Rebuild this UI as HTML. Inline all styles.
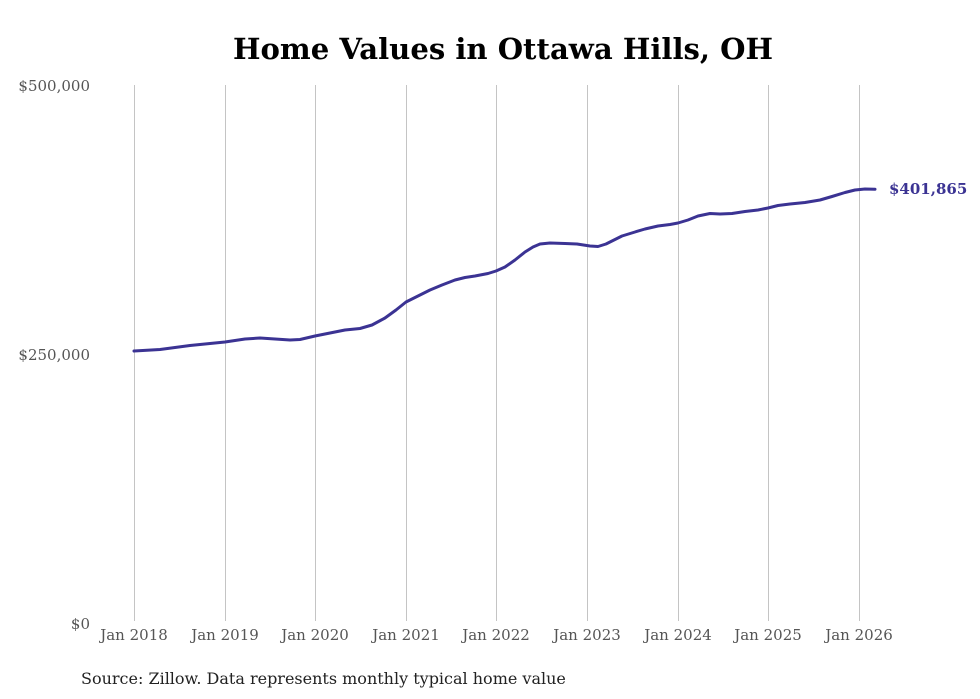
<!DOCTYPE html>
<html><head><meta charset="utf-8"><style>
body{margin:0;background:#fff;}
svg{display:block;font-family:"DejaVu Serif","Liberation Serif",serif;}
</style></head><body>
<svg width="980" height="699" viewBox="0 0 980 699" xmlns="http://www.w3.org/2000/svg">
<rect width="980" height="699" fill="#fff"/>
<text x="503" y="59" text-anchor="middle" font-size="29" font-weight="900" fill="#000" textLength="540" lengthAdjust="spacingAndGlyphs">Home Values in Ottawa Hills, OH</text>
<g stroke="#c4c4c4" stroke-width="1">
<line x1="134.5" y1="85" x2="134.5" y2="621"/>
<line x1="225.5" y1="85" x2="225.5" y2="621"/>
<line x1="315.5" y1="85" x2="315.5" y2="621"/>
<line x1="406.5" y1="85" x2="406.5" y2="621"/>
<line x1="496.5" y1="85" x2="496.5" y2="621"/>
<line x1="587.5" y1="85" x2="587.5" y2="621"/>
<line x1="678.5" y1="85" x2="678.5" y2="621"/>
<line x1="768.5" y1="85" x2="768.5" y2="621"/>
<line x1="859.5" y1="85" x2="859.5" y2="621"/>
</g>
<g font-size="15" fill="#555" text-anchor="end">
<text x="90" y="91">$500,000</text>
<text x="90" y="360">$250,000</text>
<text x="90" y="629">$0</text>
</g>
<g font-size="15" fill="#555" text-anchor="middle">
<text x="134" y="640">Jan 2018</text>
<text x="225" y="640">Jan 2019</text>
<text x="315" y="640">Jan 2020</text>
<text x="406" y="640">Jan 2021</text>
<text x="496" y="640">Jan 2022</text>
<text x="587" y="640">Jan 2023</text>
<text x="678" y="640">Jan 2024</text>
<text x="768" y="640">Jan 2025</text>
<text x="859" y="640">Jan 2026</text>
</g>
<path fill="none" stroke="#3b3393" stroke-width="3" stroke-linejoin="round" stroke-linecap="round"
d="M134,351 L160,349.5 L190,345.5 L225,342 L245,339 L260,338 L275,339 L290,340 L300,339.5 L315,336 L330,333 L345,330 L360,328.5 L372,325 L385,318 L396,310 L406,302 L418,296 L430,290 L442,285 L455,280 L465,277.5 L475,276 L488,273.5 L496,271 L505,267 L515,260 L525,252 L533,247 L540,244 L550,243 L565,243.5 L577,244 L590,246 L598,246.5 L606,244 L614,240 L622,236 L635,232 L645,229 L658,226 L670,224.5 L678,223 L688,220 L698,216 L710,213.5 L720,214 L732,213.5 L745,211.5 L758,210 L768,208 L778,205.5 L790,204 L805,202.5 L820,200 L832,196.5 L845,192.5 L855,190 L865,189 L875,189.2"/>
<text x="889" y="194" font-size="15" font-weight="bold" fill="#3b3393">$401,865</text>
<text x="81" y="684" font-size="16" fill="#222">Source: Zillow. Data represents monthly typical home value</text>
</svg>
</body></html>
